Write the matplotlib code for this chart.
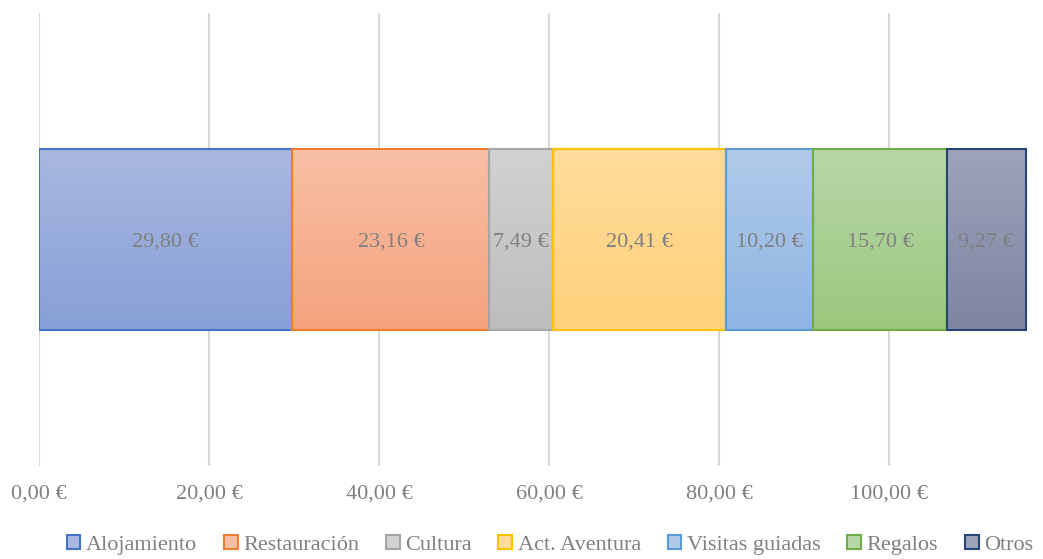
import numpy as np
import matplotlib
matplotlib.use("Agg")
import matplotlib.pyplot as plt
from matplotlib.patches import Patch
from matplotlib.colors import LinearSegmentedColormap

# Gasto medio por categoria
categorias = ["Alojamiento", "Restauración", "Cultura", "Act. Aventura", "Visitas guiadas", "Regalos", "Otros"]
valores = [29.80, 23.16, 7.49, 20.41, 10.20, 15.70, 9.27]

# colores: arriba, abajo, borde
col_arriba = ["#A9B8E0", "#F8BFA5", "#D2D2D2", "#FFDC9C", "#B0CAE9", "#B8D7A8", "#9EA3B9"]
col_abajo = ["#87A0D7", "#F5A37E", "#BDBDBD", "#FFD17A", "#8EB5E3", "#9BC87E", "#7D85A2"]
col_borde = ["#4472C4", "#ED7D31", "#A5A5A5", "#FFC000", "#5B9BD5", "#70AD47", "#264478"]

plt.rcParams['font.family'] = ['Liberation Serif', 'DejaVu Serif']
gris = "#808080"
tam = 16

def euros(v):
    return ("%.2f" % v).replace(".", ",") + " €"

fig = plt.figure(figsize=(10.43, 5.59), dpi=100)
ax = fig.add_axes([39/1043, 93/559, 999/1043, 453/559])

izq = np.concatenate([[0], np.cumsum(valores)[:-1]])
alto = 0.8
for i in range(len(valores)):
    barra = ax.barh(0, valores[i], left=izq[i], height=alto, facecolor="none",
                    edgecolor=col_borde[i], linewidth=1.5, zorder=3)[0]
    cmap = LinearSegmentedColormap.from_list("g%d" % i, [col_arriba[i], col_abajo[i]])
    grad = np.linspace(0, 1, 100).reshape(-1, 1)
    im = ax.imshow(grad, cmap=cmap, aspect="auto", origin="upper",
                   extent=[izq[i], izq[i] + valores[i], -alto/2, alto/2], zorder=2)
    im.set_clip_path(barra)
    ax.text(izq[i] + valores[i]/2, -0.01, euros(valores[i]), ha="center", va="center",
            color=gris, fontsize=tam, zorder=4)

ax.set_xlim(0, 117.5)
ax.set_ylim(-1, 1)
ax.set_xticks([0, 20, 40, 60, 80, 100])
ax.set_xticklabels([euros(t) for t in [0, 20, 40, 60, 80, 100]])
ax.set_yticks([])
ax.tick_params(axis="x", length=0, labelsize=tam, colors=gris, pad=13)
ax.grid(axis="x", color="#D9D9D9", linewidth=1.5, zorder=0)
ax.set_axisbelow(True)
for s in ax.spines.values():
    s.set_visible(False)

manejadores = [Patch(facecolor=col_arriba[i], edgecolor=col_borde[i], linewidth=1.5) for i in range(len(categorias))]
fig.legend(manejadores, categorias, loc="center", bbox_to_anchor=(550/1043, 14/559), ncol=7,
           frameon=False, fontsize=tam, labelcolor=gris, handlelength=0.62, handleheight=0.62,
           handletextpad=0.25, columnspacing=1.2, borderpad=0, borderaxespad=0)

fig.savefig("out.png", dpi=100)
